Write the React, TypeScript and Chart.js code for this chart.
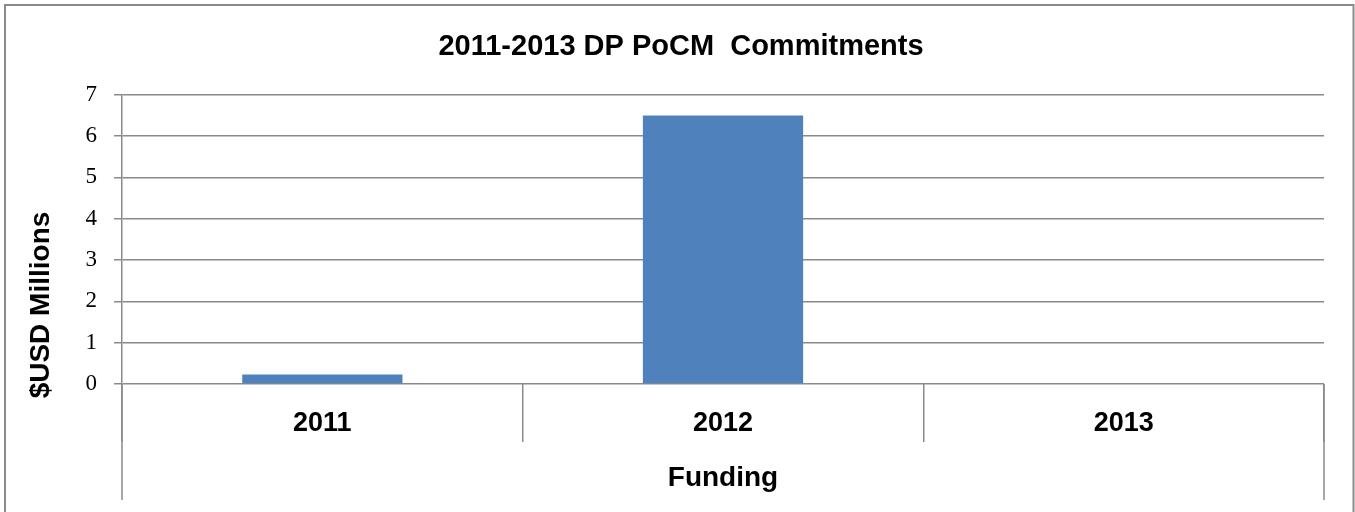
import React, { useEffect, useRef } from "react";
import { Chart, registerables } from "chart.js";

Chart.register(...registerables);

const chartTitle = "2011-2013 DP PoCM  Commitments";
const categories = ["2011", "2012", "2013"];
const commitments = [0.23, 6.5, 0];
const yTitle = "$USD Millions";
const xTitle = "Funding";
const yMin = 0;
const yMax = 7;
const yStep = 1;

const GRID = "#8a8a8a";
const SANS = "'Liberation Sans', Arial, sans-serif";
const SERIF = "'Liberation Serif', 'Times New Roman', serif";

const framePlugin = {
  id: "frame",
  afterDraw(chart: any) {
    const { ctx, chartArea } = chart;
    ctx.save();
    ctx.strokeStyle = GRID;
    ctx.lineWidth = 2;
    ctx.strokeRect(5, 5, 1348.5, 600);
    ctx.lineWidth = 1.5;
    ctx.beginPath();
    [chartArea.left, chartArea.right].forEach((x: number) => {
      ctx.moveTo(x, chartArea.bottom);
      ctx.lineTo(x, 500);
    });
    ctx.stroke();
    ctx.translate(41, 305);
    ctx.rotate(-Math.PI / 2);
    ctx.fillStyle = "#000";
    ctx.font = `bold 28px ${SANS}`;
    ctx.textAlign = "center";
    ctx.textBaseline = "middle";
    ctx.fillText(yTitle, 0, 0);
    ctx.restore();
  },
};

export default function App() {
  const ref = useRef<HTMLCanvasElement>(null);

  useEffect(() => {
    if (!ref.current) return;
    const chart = new Chart(ref.current, {
      type: "bar",
      data: {
        labels: categories,
        datasets: [
          {
            label: "Commitments",
            data: commitments,
            backgroundColor: "#4f81bd",
            borderWidth: 0,
            barPercentage: 0.4,
            categoryPercentage: 1,
          },
        ],
      },
      options: {
        responsive: false,
        animation: false,
        layout: { padding: { left: 7, right: 0, top: 0, bottom: 0 } },
        plugins: {
          legend: { display: false },
          tooltip: { enabled: false },
          title: {
            display: true,
            text: chartTitle,
            color: "#000",
            font: { family: SANS, size: 29, weight: "bold", lineHeight: 1.2 },
            padding: { top: 30, bottom: 30 },
          },
        },
        scales: {
          x: {
            offset: true,
            grid: {
              offset: true,
              drawOnChartArea: false,
              drawTicks: true,
              tickLength: 58,
              color: GRID,
              lineWidth: 1.5,
            },
            border: { display: false },
            ticks: {
              color: "#000",
              font: { family: SANS, size: 27, weight: "bold", lineHeight: 1.2 },
              padding: -35,
              maxRotation: 0,
            },
            title: {
              display: true,
              text: xTitle,
              color: "#000",
              font: { family: SANS, size: 28, weight: "bold", lineHeight: 1.2 },
              padding: { top: 0, bottom: 17 },
            },
            afterFit(scale: any) {
              scale.height = 128;
            },
          },
          y: {
            min: yMin,
            max: yMax,
            ticks: {
              stepSize: yStep,
              color: "#000",
              font: { family: SERIF, size: 23 },
              padding: 17,
            },
            grid: {
              color: GRID,
              lineWidth: 1.5,
              tickLength: 8,
            },
            border: { display: true, color: GRID, width: 1.5 },
            afterFit(scale: any) {
              scale.width = 115;
            },
          },
          yRight: {
            position: "right",
            display: true,
            min: yMin,
            max: yMax,
            ticks: { display: false },
            grid: { display: false, drawTicks: false },
            border: { display: false },
            afterFit(scale: any) {
              scale.width = 31;
            },
          },
        },
      },
      plugins: [framePlugin],
    });
    return () => chart.destroy();
  }, []);

  return (
    <div style={{ position: "absolute", left: 0, top: 0, width: 1355, height: 512, background: "#fff" }}>
      <canvas ref={ref} width={1355} height={512} style={{ display: "block" }} />
    </div>
  );
}
